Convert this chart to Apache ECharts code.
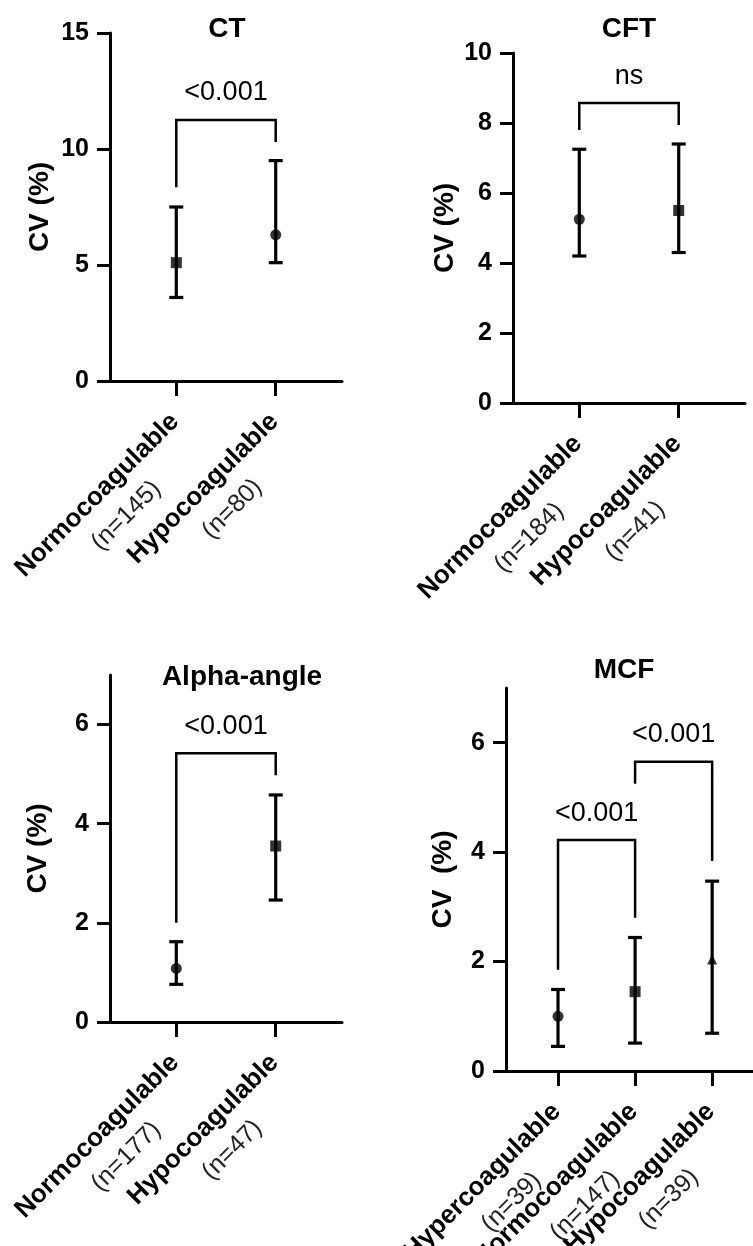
<!DOCTYPE html>
<html lang="en">
<head>
<meta charset="UTF-8">
<title>CV by coagulation status</title>
<script src="https://cdn.jsdelivr.net/npm/echarts@6.0.0/dist/echarts.min.js"></script>
<style>
    html, body { margin: 0; padding: 0; background: #fff; }
    #main { width: 753px; height: 1246px; }
</style>
</head>
<body>
<div id="main"></div>
<script>
// CT
var ctGroups = ['Normocoagulable', 'Hypocoagulable'];
var ctN = ['(n=145)', '(n=80)'];
var ctMean = [5.1, 6.3];
var ctLow = [3.6, 5.1];
var ctHigh = [7.5, 9.5];
var ctSymbols = ['rect', 'circle'];
var ctTicks = [0, 5, 10, 15];
// bracket: [from group, to group, top, left leg end, right leg end]
var ctBrackets = [[1, 2, 11.25, 8.35, 10.3]];
var ctP = ['<0.001'];

// CFT
var cftGroups = ['Normocoagulable', 'Hypocoagulable'];
var cftN = ['(n=184)', '(n=41)'];
var cftMean = [5.25, 5.5];
var cftLow = [4.2, 4.3];
var cftHigh = [7.25, 7.4];
var cftSymbols = ['circle', 'rect'];
var cftTicks = [0, 2, 4, 6, 8, 10];
var cftBrackets = [[1, 2, 8.57, 7.8, 7.94]];
var cftP = ['ns'];

// Alpha-angle
var alphaGroups = ['Normocoagulable', 'Hypocoagulable'];
var alphaN = ['(n=177)', '(n=47)'];
var alphaMean = [1.08, 3.55];
var alphaLow = [0.76, 2.46];
var alphaHigh = [1.62, 4.58];
var alphaSymbols = ['circle', 'rect'];
var alphaTicks = [0, 2, 4, 6];
var alphaBrackets = [[1, 2, 5.42, 2.0, 4.98]];
var alphaP = ['<0.001'];

// MCF
var mcfGroups = ['Hypercoagulable', 'Normocoagulable', 'Hypocoagulable'];
var mcfN = ['(n=39)', '(n=147)', '(n=39)'];
var mcfMean = [1.0, 1.45, 2.04];
var mcfLow = [0.45, 0.51, 0.69];
var mcfHigh = [1.49, 2.44, 3.47];
var mcfSymbols = ['circle', 'rect', 'triangle'];
var mcfTicks = [0, 2, 4, 6];
var mcfBrackets = [[1, 2, 4.22, 1.85, 2.8], [2, 3, 5.65, 5.25, 3.84]];
var mcfP = ['<0.001', '<0.001'];

var FONT = '"Liberation Sans", Arial, Helvetica, sans-serif';
var symbolSizes = { rect: 11, circle: 11, triangle: 10 };

var panels = [
    { title: 'CT', titleX: 227, titleY: 29, yName: 'CV (%)', nameGap: 56,
      grid: { left: 110, top: 33, width: 232, height: 348 }, xMin: 1 / 3, xMax: 8 / 3, yMax: 15,
      groups: ctGroups, n: ctN, mean: ctMean, low: ctLow, high: ctHigh, symbols: ctSymbols,
      ticks: ctTicks, brackets: ctBrackets, p: ctP },
    { title: 'CFT', titleX: 629, titleY: 29, yName: 'CV (%)', nameGap: 54,
      grid: { left: 513, top: 53, width: 232, height: 350 }, xMin: 1 / 3, xMax: 8 / 3, yMax: 10,
      groups: cftGroups, n: cftN, mean: cftMean, low: cftLow, high: cftHigh, symbols: cftSymbols,
      ticks: cftTicks, brackets: cftBrackets, p: cftP },
    { title: 'Alpha-angle', titleX: 242, titleY: 677, yName: 'CV (%)', nameGap: 58,
      grid: { left: 110, top: 675, width: 232, height: 347 }, xMin: 1 / 3, xMax: 8 / 3, yMax: 7,
      groups: alphaGroups, n: alphaN, mean: alphaMean, low: alphaLow, high: alphaHigh, symbols: alphaSymbols,
      ticks: alphaTicks, brackets: alphaBrackets, p: alphaP },
    { title: 'MCF', titleX: 624, titleY: 670, yName: 'CV  (%)', nameGap: 49,
      grid: { left: 506, top: 688, width: 247, height: 383 }, xMin: 0.325, xMax: 3.53, yMax: 7,
      groups: mcfGroups, n: mcfN, mean: mcfMean, low: mcfLow, high: mcfHigh, symbols: mcfSymbols,
      ticks: mcfTicks, brackets: mcfBrackets, p: mcfP }
];

var axisLine = { show: true, onZero: false, lineStyle: { color: '#000', width: 3 } };

function errorBarItem(params, api) {
    var x = api.value(0);
    var lo = api.coord([x, api.value(1)]);
    var hi = api.coord([x, api.value(2)]);
    var cap = 7;
    var st = { stroke: '#000', lineWidth: 3.2 };
    return {
        type: 'group',
        children: [
            { type: 'line', shape: { x1: lo[0], y1: lo[1], x2: hi[0], y2: hi[1] }, style: st },
            { type: 'line', shape: { x1: lo[0] - cap, y1: lo[1], x2: lo[0] + cap, y2: lo[1] }, style: st },
            { type: 'line', shape: { x1: hi[0] - cap, y1: hi[1], x2: hi[0] + cap, y2: hi[1] }, style: st }
        ]
    };
}

function bracketRenderer(labels) {
    return function (params, api) {
        var x1 = api.value(0), x2 = api.value(1), top = api.value(2);
        var a = api.coord([x1, api.value(3)]);
        var b = api.coord([x1, top]);
        var c = api.coord([x2, top]);
        var d = api.coord([x2, api.value(4)]);
        return {
            type: 'group',
            children: [
                { type: 'polyline', shape: { points: [a, b, c, d] },
                  style: { stroke: '#000', lineWidth: 2.5, fill: 'none' } },
                { type: 'text', x: (b[0] + c[0]) / 2, y: b[1] - 27,
                  style: { text: labels[params.dataIndex], fill: '#000', font: '27px ' + FONT,
                           align: 'center', verticalAlign: 'middle' } }
            ]
        };
    };
}

// rotated two-line group labels under each x tick
function groupLabelRenderer(names, counts) {
    return function (params, api) {
        var i = params.dataIndex;
        var pt = api.coord([api.value(0), api.value(1)]);
        return {
            type: 'text', x: pt[0], y: pt[1] + 38, rotation: Math.PI / 4,
            style: {
                text: '{a|' + names[i] + '}\n{b|' + counts[i] + '}',
                align: 'right', verticalAlign: 'middle',
                rich: {
                    a: { fontFamily: FONT, fontWeight: 'bold', fontSize: 26, fill: '#000', align: 'center', lineHeight: 66 },
                    b: { fontFamily: FONT, fontSize: 25, fill: '#222', align: 'center', lineHeight: 4, padding: [0, 0, 0, 12] }
                }
            }
        };
    };
}

var option = { animation: false, backgroundColor: '#fff', grid: [], xAxis: [], yAxis: [], series: [], graphic: [] };

panels.forEach(function (p, k) {
    option.grid.push({
        left: p.grid.left, top: p.grid.top, width: p.grid.width, height: p.grid.height,
        containLabel: false, outerBoundsMode: 'none'
    });
    var xTicks = p.groups.map(function (g, i) { return i + 1; });
    option.xAxis.push({
        type: 'value', gridIndex: k, min: p.xMin, max: p.xMax,
        axisLine: axisLine,
        splitLine: { show: false },
        axisTick: { show: true, length: 15, customValues: xTicks, lineStyle: { color: '#000', width: 3 } },
        axisLabel: { show: false }
    });
    option.yAxis.push({
        type: 'value', gridIndex: k, min: 0, max: p.yMax,
        name: p.yName, nameLocation: 'middle', nameGap: p.nameGap, nameMoveOverlap: false,
        nameTextStyle: { fontFamily: FONT, fontWeight: 'bold', fontSize: 28, color: '#000' },
        axisLine: axisLine,
        splitLine: { show: false },
        axisTick: { show: true, length: 13, customValues: p.ticks, lineStyle: { color: '#000', width: 3 } },
        axisLabel: { show: true, margin: 21, customValues: p.ticks,
                     fontFamily: FONT, fontWeight: 'bold', fontSize: 25, color: '#000' }
    });
    option.series.push({
        type: 'custom', xAxisIndex: k, yAxisIndex: k, z: 2,
        renderItem: errorBarItem,
        encode: { x: 0, y: [1, 2] },
        data: p.mean.map(function (m, i) { return [i + 1, p.low[i], p.high[i]]; })
    });
    option.series.push({
        type: 'scatter', xAxisIndex: k, yAxisIndex: k, z: 3,
        itemStyle: { color: '#000' },
        data: p.mean.map(function (m, i) {
            return { value: [i + 1, m], symbol: p.symbols[i], symbolSize: symbolSizes[p.symbols[i]] };
        })
    });
    option.series.push({
        type: 'custom', xAxisIndex: k, yAxisIndex: k, z: 2,
        renderItem: bracketRenderer(p.p),
        encode: { x: [0, 1], y: [2, 3, 4] },
        data: p.brackets
    });
    option.series.push({
        type: 'custom', xAxisIndex: k, yAxisIndex: k, z: 2, clip: false, silent: true,
        renderItem: groupLabelRenderer(p.groups, p.n),
        encode: { x: 0, y: 1 },
        data: xTicks.map(function (t) { return [t, 0]; })
    });
    option.graphic.push({
        type: 'text', x: p.titleX, y: p.titleY,
        style: { text: p.title, fill: '#000', font: 'bold 28px ' + FONT, align: 'center', verticalAlign: 'middle' }
    });
});

var myChart = echarts.init(document.getElementById('main'));
myChart.setOption(option);
</script>
</body>
</html>
